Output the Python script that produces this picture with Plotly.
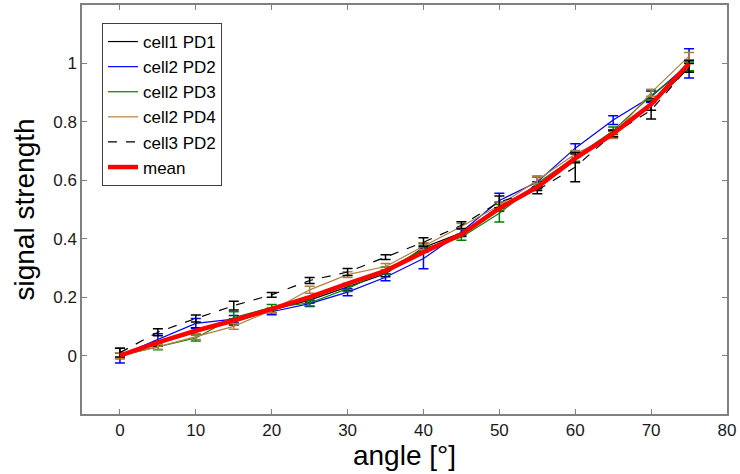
import plotly.graph_objects as go

angle = [0, 5, 10, 15, 20, 25, 30, 35, 40, 45, 50, 55, 60, 65, 70, 75]

cell1_pd1 = [0.0, 0.04, 0.085, 0.115, 0.155, 0.19, 0.235, 0.28, 0.37, 0.42, 0.51, 0.58, 0.675, 0.76, 0.86, 0.985]
cell1_pd1_err = [0.01, 0.008, 0.01, 0.01, 0.008, 0.01, 0.012, 0.01, 0.015, 0.012, 0.015, 0.015, 0.015, 0.012, 0.02, 0.015]

cell2_pd2 = [0.0, 0.055, 0.11, 0.125, 0.15, 0.178, 0.217, 0.268, 0.332, 0.423, 0.531, 0.594, 0.71, 0.806, 0.886, 1.0]
cell2_pd2_err = [0.025, 0.02, 0.017, 0.012, 0.01, 0.01, 0.012, 0.012, 0.035, 0.012, 0.025, 0.02, 0.015, 0.015, 0.02, 0.05]

cell2_pd3 = [0.0, 0.03, 0.06, 0.13, 0.165, 0.18, 0.229, 0.291, 0.366, 0.405, 0.487, 0.59, 0.68, 0.77, 0.89, 0.99]
cell2_pd3_err = [0.01, 0.01, 0.01, 0.02, 0.01, 0.01, 0.01, 0.012, 0.012, 0.01, 0.03, 0.02, 0.015, 0.012, 0.015, 0.015]

cell2_pd4 = [0.0, 0.03, 0.065, 0.10, 0.155, 0.225, 0.277, 0.305, 0.374, 0.442, 0.514, 0.60, 0.69, 0.755, 0.90, 1.025]
cell2_pd4_err = [0.01, 0.008, 0.01, 0.01, 0.008, 0.012, 0.01, 0.01, 0.012, 0.01, 0.012, 0.012, 0.012, 0.012, 0.012, 0.012]

cell3_pd2 = [0.01, 0.08, 0.127, 0.171, 0.208, 0.257, 0.286, 0.337, 0.388, 0.446, 0.526, 0.566, 0.645, 0.76, 0.84, 0.99]
cell3_pd2_err = [0.015, 0.012, 0.012, 0.015, 0.008, 0.01, 0.012, 0.008, 0.015, 0.012, 0.02, 0.012, 0.05, 0.01, 0.03, 0.02]

mean_vals = [0.0, 0.045, 0.085, 0.12, 0.16, 0.2, 0.246, 0.29, 0.354, 0.415, 0.504, 0.577, 0.675, 0.76, 0.86, 1.0]

x_ticks = [0, 10, 20, 30, 40, 50, 60, 70, 80]
y_ticks = [0, 0.2, 0.4, 0.6, 0.8, 1]
y_tick_labels = ["0", "0.2", "0.4", "0.6", "0.8", "1"]

series = [
    ("cell1 PD1", cell1_pd1, cell1_pd1_err, "#000000", "solid"),
    ("cell2 PD2", cell2_pd2, cell2_pd2_err, "#0000ff", "solid"),
    ("cell2 PD3", cell2_pd3, cell2_pd3_err, "#007f00", "solid"),
    ("cell2 PD4", cell2_pd4, cell2_pd4_err, "#b08040", "solid"),
    ("cell3 PD2", cell3_pd2, cell3_pd2_err, "#000000", "dash"),
]

fig = go.Figure()
for name, vals, err, color, dash in series:
    fig.add_trace(go.Scatter(
        x=angle, y=vals, name=name, mode="lines",
        line=dict(color=color, width=1.2, dash=dash),
        error_y=dict(type="data", array=err, visible=True, color=color, thickness=1.5, width=5),
    ))
fig.add_trace(go.Scatter(
    x=angle, y=mean_vals, name="mean", mode="lines",
    line=dict(color="#ff0000", width=4.5),
))

axis_common = dict(
    showline=True, linecolor="#808080", linewidth=1.5, mirror="ticks",
    ticks="inside", ticklen=5, tickcolor="#808080", tickwidth=1,
    showgrid=False, zeroline=False, automargin=False,
    tickfont=dict(family="Liberation Sans, Arial", size=17, color="#1a1a1a"),
)

fig.update_layout(
    width=740, height=474,
    margin=dict(l=82, r=13, t=5, b=60),
    paper_bgcolor="white", plot_bgcolor="white",
    font=dict(family="Liberation Sans, Arial", color="#000000"),
    xaxis=dict(range=[-5, 80], tickvals=x_ticks,
               title=dict(text="angle [°]", font=dict(size=28, color="#000000"), standoff=0),
               ticklabelstandoff=0, **axis_common),
    yaxis=dict(range=[-0.2, 1.2], tickvals=y_ticks, ticktext=y_tick_labels,
               title=dict(text="signal strength", font=dict(size=28, color="#000000"), standoff=10),
               ticklabelstandoff=0, **axis_common),
    legend=dict(
        x=0.031, y=0.956, xanchor="left", yanchor="top",
        bgcolor="white", bordercolor="#404040", borderwidth=1,
        font=dict(family="Liberation Sans, Arial", size=17, color="#000000"),
        itemwidth=30, tracegroupgap=0,
    ),
    showlegend=True,
)

fig.write_html("out.html", config={"displayModeBar": False},
               post_script="document.body.style.margin='0px';")
